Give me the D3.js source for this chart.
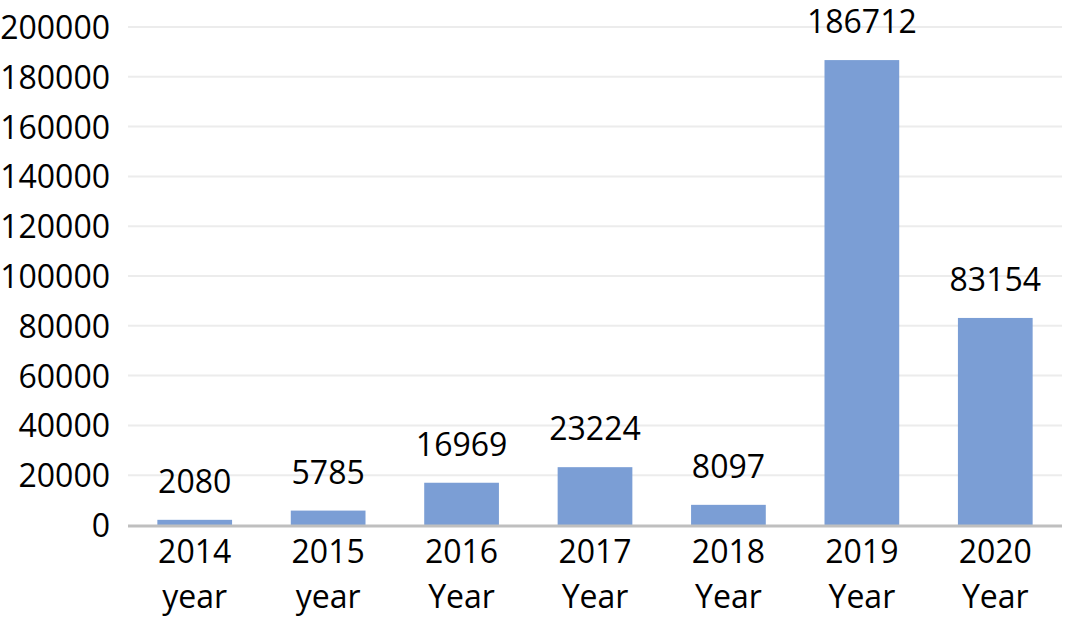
<!DOCTYPE html>
<html><head><meta charset="utf-8">
<script src="https://cdn.jsdelivr.net/npm/d3@7"></script>
<style>body{margin:0;background:#fff}svg{display:block}text{font-family:"Open Sans",sans-serif;fill:#000}</style>
</head><body>
<svg id="c" width="1065" height="620"></svg>
<script>
const years = ["2014", "2015", "2016", "2017", "2018", "2019", "2020"];
const unitWords = ["year", "year", "Year", "Year", "Year", "Year", "Year"];
const values = [2080, 5785, 16969, 23224, 8097, 186712, 83154];
const yTicks = [0, 20000, 40000, 60000, 80000, 100000, 120000, 140000, 160000, 180000, 200000];

const svg = d3.select("#c");
const mLeft = 128, mRight = 1062, mTop = 27, mBottom = 525;
const x = d3.scaleBand().domain(years).range([mLeft, mRight]).paddingInner(0.44).paddingOuter(0.22);
const y = d3.scaleLinear().domain([0, 200000]).range([mBottom, mTop]);

// gridlines
svg.append("g").selectAll("line").data(yTicks.filter(d => d > 0)).join("line")
  .attr("x1", mLeft).attr("x2", mRight)
  .attr("y1", d => y(d)).attr("y2", d => y(d))
  .attr("stroke", "#ececec").attr("stroke-width", 2);

// y axis labels via d3 axis
const yAxis = svg.append("g").attr("transform", `translate(${mLeft},0)`)
  .call(d3.axisLeft(y).tickValues(yTicks).tickSize(0).tickPadding(18).tickFormat(d3.format("d")));
yAxis.select(".domain").remove();
yAxis.selectAll("text").attr("font-size", 32).attr("font-family", "'Open Sans', sans-serif").attr("fill", "#000").attr("dy", "0.36em");

// bars
svg.append("g").selectAll("rect").data(values).join("rect")
  .attr("x", (d, i) => x(years[i]))
  .attr("width", x.bandwidth())
  .attr("y", d => y(d))
  .attr("height", d => y(0) - y(d))
  .attr("fill", "#7b9ed5");

// value labels
svg.append("g").selectAll("text").data(values).join("text")
  .attr("x", (d, i) => x(years[i]) + x.bandwidth() / 2)
  .attr("y", d => y(d) - 27)
  .attr("text-anchor", "middle").attr("font-size", 32)
  .text(d => d);

// x axis line
svg.append("line").attr("x1", mLeft).attr("x2", mRight).attr("y1", y(0) + 1).attr("y2", y(0) + 1)
  .attr("stroke", "#bfbfbf").attr("stroke-width", 3);

// x labels
const xl = svg.append("g").selectAll("text").data(years).join("text")
  .attr("text-anchor", "middle").attr("font-size", 32)
  .attr("x", d => x(d) + x.bandwidth() / 2);
xl.append("tspan").attr("x", d => x(d) + x.bandwidth() / 2).attr("y", 563).text(d => d);
xl.append("tspan").attr("x", d => x(d) + x.bandwidth() / 2).attr("y", 608).text((d, i) => unitWords[i]);
</script>
</body></html>
